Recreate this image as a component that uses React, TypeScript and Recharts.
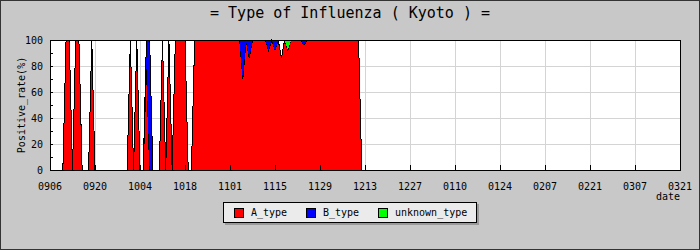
import React from 'react';
import { AreaChart, Area, XAxis, YAxis, CartesianGrid, ReferenceArea } from 'recharts';

// daily samples, MMDD (season starts in September)
const dates = [
  '0910', '0911', '0912', '0913', '0914', '0915', '0916', '0917', '0918', '0919',
  '0920', '0921', '0922', '0923', '0924', '0925', '0926', '0927', '0928', '0929', '0930',
  '1001', '1002', '1003', '1004', '1005', '1006', '1007', '1008', '1009', '1010',
  '1011', '1012', '1013', '1014', '1015', '1016', '1017', '1018', '1019', '1020',
  '1021', '1022', '1023', '1024', '1025', '1026', '1027', '1028', '1029', '1030', '1031',
  '1101', '1102', '1103', '1104', '1105', '1106', '1107', '1108', '1109', '1110',
  '1111', '1112', '1113', '1114', '1115', '1116', '1117', '1118', '1119', '1120',
  '1121', '1122', '1123', '1124', '1125', '1126', '1127', '1128', '1129', '1130',
  '1201', '1202', '1203', '1204', '1205', '1206', '1207', '1208', '1209', '1210',
  '1211', '1212',
];

const aType = [
  0, 100, 100, 0, 100, 100, 0, 0, 0, 100,
  0, 0, 0, 0, 0, 0, 0, 0, 0, 0, 0,
  100, 0, 100, 0, 0, 80, 0, 0, 0, 0,
  100, 0, 100, 0, 100, 100, 100, 100, 0, 0,
  100, 100, 100, 100, 100, 100, 100, 100, 100, 100, 100,
  100, 100, 100, 100, 70, 100, 86, 100, 100, 100,
  100, 100, 92, 100, 92, 100, 86, 100, 92, 100,
  100, 100, 100, 96, 100, 100, 100, 100, 100, 100,
  100, 100, 100, 100, 100, 100, 100, 100, 100, 100,
  100, 0,
];

const bType = [
  0, 0, 0, 0, 0, 0, 0, 0, 0, 0,
  0, 0, 0, 0, 0, 0, 0, 0, 0, 0, 0,
  0, 0, 0, 0, 0, 20, 100, 0, 0, 0,
  0, 0, 0, 0, 0, 0, 0, 0, 0, 0,
  0, 0, 0, 0, 0, 0, 0, 0, 0, 0, 0,
  0, 0, 0, 0, 30, 0, 14, 0, 0, 0,
  0, 0, 8, 0, 8, 0, 0, 0, 0, 0,
  0, 0, 0, 4, 0, 0, 0, 0, 0, 0,
  0, 0, 0, 0, 0, 0, 0, 0, 0, 0,
  0, 0,
];

const unknownType = [
  0, 0, 0, 0, 0, 0, 0, 0, 0, 0,
  0, 0, 0, 0, 0, 0, 0, 0, 0, 0, 0,
  0, 0, 0, 0, 0, 0, 0, 0, 0, 0,
  0, 0, 0, 0, 0, 0, 0, 0, 0, 0,
  0, 0, 0, 0, 0, 0, 0, 0, 0, 0, 0,
  0, 0, 0, 0, 0, 0, 0, 0, 0, 0,
  0, 0, 0, 0, 0, 0, 0, 0, 8, 0,
  0, 0, 0, 0, 0, 0, 0, 0, 0, 0,
  0, 0, 0, 0, 0, 0, 0, 0, 0, 0,
  0, 0,
];

const xTickLabels = ['0906', '0920', '1004', '1018', '1101', '1115', '1129', '1213', '1227', '0110', '0124', '0207', '0221', '0307', '0321'];
const yTickValues = [0, 10, 20, 30, 40, 50, 60, 70, 80, 90, 100];
const yLabelValues = [0, 20, 40, 60, 80, 100];

const MONO = "'DejaVu Sans Mono', monospace";

// MMDD -> timestamp (Sep..Dec in first year, Jan..Mar in next)
const toTime = (mmdd: string) => {
  const m = parseInt(mmdd.slice(0, 2), 10);
  const d = parseInt(mmdd.slice(2), 10);
  return Date.UTC(m >= 9 ? 2014 : 2015, m - 1, d);
};
const fromTime = (t: number) => {
  const dt = new Date(t);
  return String(dt.getUTCMonth() + 1).padStart(2, '0') + String(dt.getUTCDate()).padStart(2, '0');
};

const data = dates.map((d, i) => ({ t: toTime(d), A_type: aType[i], B_type: bType[i], unknown_type: unknownType[i] }));
const xTicks = xTickLabels.map(toTime);
const xMin = xTicks[0];
const xMax = xTicks[xTicks.length - 1];

const series = [
  { key: 'A_type', color: '#ff0000' },
  { key: 'B_type', color: '#0000ff' },
  { key: 'unknown_type', color: '#00ff00' },
];

const XTick = (props: any) => {
  const { x, y, payload } = props;
  return (
    <g>
      <line x1={x} y1={y} x2={x} y2={y - 5} stroke="#000" />
      <text x={x} y={y + 19.5} textAnchor="middle" fontSize={10} fontFamily={MONO} fill="#000">
        {fromTime(payload.value)}
      </text>
    </g>
  );
};

const YTick = (props: any) => {
  const { x, y, payload } = props;
  return (
    <g>
      <line x1={x} y1={y} x2={x + 3} y2={y} stroke="#000" />
      {yLabelValues.includes(payload.value) && (
        <text x={x - 7} y={y + 3.5} textAnchor="end" fontSize={10} fontFamily={MONO} fill="#000">
          {payload.value}
        </text>
      )}
    </g>
  );
};

const legendPos = [10, 82, 154];

export default function App() {
  return (
    <div style={{ position: 'relative', width: 700, height: 250, background: '#c8c8c8', boxShadow: 'inset 0 0 0 1px #333', fontFamily: MONO }}>
      <style>{'body{margin:0}'}</style>
      <div style={{ position: 'absolute', top: 4, left: 0, width: 700, textAlign: 'center', fontSize: 15, lineHeight: '18px', color: '#000' }}>
        = Type of Influenza ( Kyoto ) =
      </div>
      <div style={{ position: 'absolute', top: 0, left: 0 }}>
        <AreaChart
          width={700}
          height={250}
          data={data}
          margin={{ top: 40, right: 20, bottom: 50, left: 0 }}
          style={{ shapeRendering: 'crispEdges' }}
        >
          <CartesianGrid
            stroke="#d4d4d4"
            fill="#ffffff"
            fillOpacity={1}
            horizontalValues={[20, 40, 60, 80]}
            verticalValues={xTicks}
          />
          <XAxis
            dataKey="t"
            type="number"
            domain={[xMin, xMax]}
            ticks={xTicks}
            interval={0}
            height={30}
            tickSize={0}
            tickMargin={0}
            tickLine={false}
            axisLine={{ stroke: '#000' }}
            tick={<XTick />}
            label={{
              content: (p: any) => (
                <text x={p.viewBox.x + p.viewBox.width} y={p.viewBox.y + 30} textAnchor="end" fontSize={10} fontFamily={MONO} fill="#000">
                  date
                </text>
              ),
            }}
          />
          <YAxis
            type="number"
            domain={[0, 100]}
            ticks={yTickValues}
            interval={0}
            width={50}
            tickSize={0}
            tickMargin={0}
            tickLine={false}
            axisLine={{ stroke: '#000' }}
            tick={<YTick />}
            label={{
              content: (p: any) => {
                const cy = p.viewBox.y + p.viewBox.height / 2;
                return (
                  <text x={21} y={cy} transform={`rotate(-90 21 ${cy})`} textAnchor="middle" dominantBaseline="central" fontSize={10} fontFamily={MONO} fill="#000">
                    Positive_rate(%)
                  </text>
                );
              },
            }}
          />
          {series.map((s) => (
            <Area
              key={s.key}
              type="linear"
              dataKey={s.key}
              stackId="1"
              stroke="#000"
              strokeWidth={1}
              fill={s.color}
              fillOpacity={1}
              dot={false}
              activeDot={false}
              isAnimationActive={false}
            />
          ))}
          <ReferenceArea x1={xMin} x2={xMax} y1={0} y2={100} fill="none" stroke="#000" strokeWidth={1} />
        </AreaChart>
      </div>
      <div
        style={{
          position: 'absolute', left: 223, top: 202, width: 252, height: 19,
          background: '#ebebeb', border: '1px solid #000', boxShadow: '2px 2px 0 #9a9a9a',
        }}
      >
        {series.map((s, i) => (
          <React.Fragment key={s.key}>
            <div style={{ position: 'absolute', left: legendPos[i], top: 5, width: 8, height: 8, background: s.color, border: '1px solid #000' }} />
            <div style={{ position: 'absolute', left: legendPos[i] + 17, top: 4, fontSize: 10, lineHeight: '12px', color: '#000' }}>
              {s.key}
            </div>
          </React.Fragment>
        ))}
      </div>
    </div>
  );
}
